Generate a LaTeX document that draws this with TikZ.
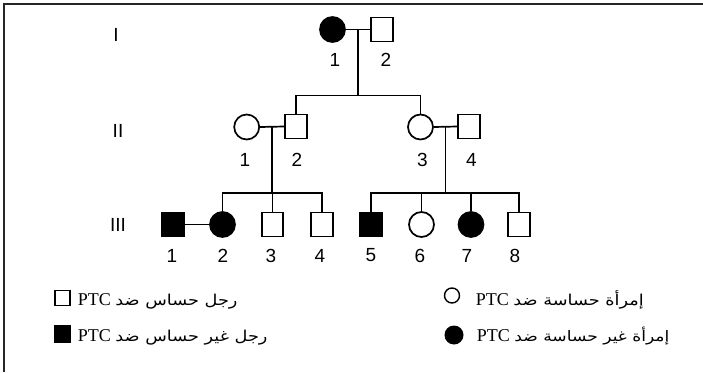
\documentclass[tikz,border=0pt]{standalone}
\usepackage{fontspec}
\usetikzlibrary{calc}
\setmainfont{Liberation Sans}
\newfontfamily\seriffont{Liberation Serif}
\newfontfamily\arabicfont[Script=Arabic,FakeStretch=1.18]{DejaVu Sans}
\TeXXeTstate=1
\begin{document}
\begin{tikzpicture}[x=1pt,y=-1pt,line width=1.7pt,
  female/.style={circle,draw,line width=1.7pt,minimum size=25pt,inner sep=0pt},
  male/.style={rectangle,draw,line width=1.7pt,minimum width=21.5pt,minimum height=24pt,inner sep=0pt},
  aff/.style={fill=black},
  num/.style={inner sep=0pt,font=\fontsize{19}{19}\selectfont},
  gen/.style={inner sep=0pt,font=\fontsize{19}{19}\selectfont},
  legtxt/.style={anchor=base west,inner sep=0pt,font=\fontsize{18}{18}\seriffont\selectfont}]
\useasboundingbox (0,0) rectangle (703,372);
\draw[line width=2pt,black!85] (4,372) -- (4,4) -- (703,4);

% generation labels
\node[gen] (gI) at (116,35) {I};
\node[gen] (gII) at (118,131) {II};
\node[gen] (gIII) at (118,225) {III};

% generation I
\node[female,aff] (I1) at (332.5,29.5) {};
\node[male] (I2) at (382,29.5) {};
\node[num] (nI1) at (335,60) {1};
\node[num] (nI2) at (386,60) {2};
\draw (I1.east) -- (I2.west);
\coordinate (m1) at ($(I1.east)!0.5!(I2.west)$);
\coordinate (s1) at (358,95.5);

% generation II
\node[female] (II1) at (246.7,127) {};
\node[male] (II2) at (296,126.5) {};
\node[female] (II3) at (420.5,127) {};
\node[male] (II4) at (469,126.5) {};
\node[num] (nII1) at (245,159.5) {1};
\node[num] (nII2) at (297,159.5) {2};
\node[num] (nII3) at (422.5,159.5) {3};
\node[num] (nII4) at (471.5,159.5) {4};
\draw (II1.east) -- (II2.west);
\draw (II3.east) -- (II4.west);
\coordinate (m2) at ($(II1.east)!0.5!(II2.west)$);
\coordinate (m3) at ($(II3.east)!0.5!(II4.west)$);
\coordinate (s2) at (0,193);

\draw (m1) -- (m1 |- s1);
\draw (II2.north) -- (II2.north |- s1) -- (II3.north |- s1) -- (II3.north);

% generation III
\node[male,aff] (III1) at (173,224.5) {};
\node[female,aff] (III2) at (222.5,224.5) {};
\node[male] (III3) at (272.5,224.5) {};
\node[male] (III4) at (322,224.5) {};
\node[male,aff] (III5) at (371,224.5) {};
\node[female] (III6) at (421.5,224.5) {};
\node[female,aff] (III7) at (471,224.5) {};
\node[male] (III8) at (519,224.5) {};
\foreach \i/\x in {1/172,2/223,3/271,4/320,5/371,6/420,7/467,8/515}
  \node[num] (nIII\i) at (\x,255.5) {\i};

\draw (III1.east) -- (III2.west);
\draw (m2) -- (m2 |- s2);
\draw (m3) -- (m3 |- s2);
\draw (III2.north) -- (III2.north |- s2) -- (III4.north |- s2) -- (III4.north);
\draw (III3.north) -- (III3.north |- s2);
\draw (III5.north) -- (III5.north |- s2) -- (III8.north |- s2) -- (III8.north);
\draw (III6.north) -- (III6.north |- s2);
\draw (III7.north) -- (III7.north |- s2);

% legend
\node[rectangle,draw,line width=1.4pt,minimum size=15pt,inner sep=0pt] (L1) at (62.3,298) {};
\node[rectangle,fill=black,minimum width=17pt,minimum height=18pt,inner sep=0pt] (L2) at (62.3,334) {};
\node[circle,draw,line width=1.4pt,minimum size=15pt,inner sep=0pt] (L3) at (452,295.5) {};
\node[circle,fill=black,minimum size=19pt,inner sep=0pt] (L4) at (454,335) {};

\node[legtxt] (T1) at (77,305) {PTC\ {\arabicfont\fontsize{15}{15}\selectfont\beginR رجل حساس ضد\endR}};
\node[legtxt] (T2) at (77,341) {PTC\ {\arabicfont\fontsize{15}{15}\selectfont\beginR رجل غير حساس ضد\endR}};
\node[legtxt] (T3) at (475,305) {PTC\ {\arabicfont\fontsize{15}{15}\selectfont\beginR إمرأة حساسة ضد\endR}};
\node[legtxt] (T4) at (476,341) {PTC\ {\arabicfont\fontsize{14.5}{15}\selectfont\beginR إمرأة غير حساسة ضد\endR}};
\end{tikzpicture}
\end{document}
